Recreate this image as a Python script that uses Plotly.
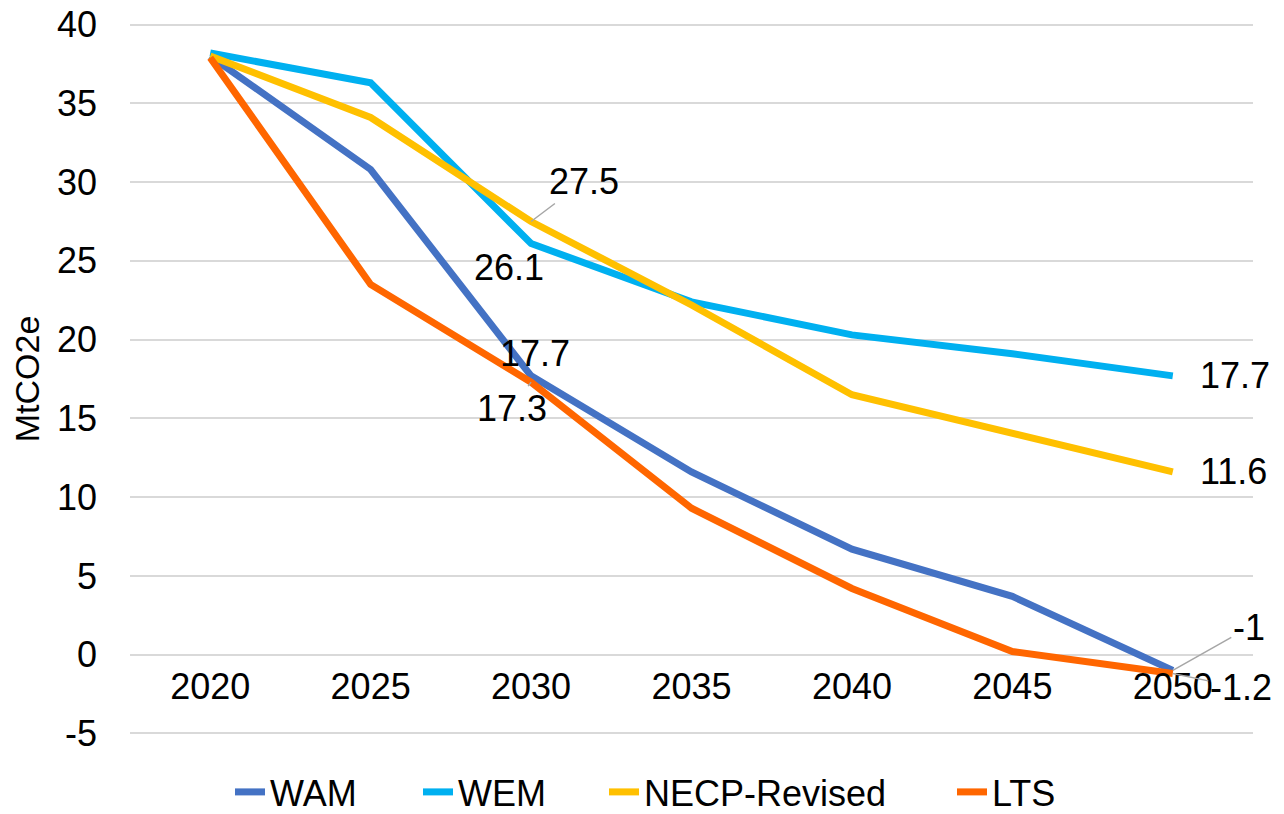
import plotly.graph_objects as go

years = ["2020", "2025", "2030", "2035", "2040", "2045", "2050"]
wam = [38.0, 30.8, 17.7, 11.6, 6.7, 3.7, -1.0]
wem = [38.2, 36.3, 26.1, 22.4, 20.3, 19.1, 17.7]
necp = [38.0, 34.1, 27.5, 22.2, 16.5, 14.1, 11.6]
lts = [37.9, 23.5, 17.3, 9.3, 4.2, 0.2, -1.2]
y_ticks = [-5, 0, 5, 10, 15, 20, 25, 30, 35, 40]
y_tick_labels = ["-5", "0", "5", "10", "15", "20", "25", "30", "35", "40"]

series = [
    ("WAM", wam, "#4472C4"),
    ("WEM", wem, "#00B0F0"),
    ("NECP-Revised", necp, "#FFC000"),
    ("LTS", lts, "#FF6600"),
]
# legend entry text start (page px)
legend_text_x = [272, 460, 646, 994]

W, H = 1276, 806  # page body has an 8px margin
Y0, Y1 = -5.1, 40.1
FONT = "Liberation Sans, Arial, sans-serif"
fig = go.Figure()
for i, (name, vals, col) in enumerate(series):
    lg = "legend" if i == 0 else f"legend{i + 1}"
    fig.add_trace(go.Scatter(x=years, y=vals, name=name, mode="lines",
                             line=dict(color=col, width=7), legend=lg))

lab_font = dict(family=FONT, size=36, color="#000000")


def fmt(v):
    return f"{v:g}".replace("\u2212", "-")


# labels without leader lines (x as category index)
plain = [
    (2, wem[2], -22, -24, "center"),
    (2, wam[2], 4, 22, "center"),
    (6, wem[6], 25, 0, "left"),
    (6, necp[6], 25, 0, "left"),
]
for x, y, xs, ys, anc in plain:
    fig.add_annotation(x=x, y=y, text=fmt(y), showarrow=False, xshift=xs, yshift=ys,
                       xanchor=anc, yanchor="middle", font=lab_font)
# labels with leader lines
leader = [
    (2, necp[2], 53, -40),
    (2, lts[2], -19, 26),
    (6, wam[6], 76, -43),
    (6, lts[6], 68, 14),
]
for x, y, ax, ay in leader:
    fig.add_annotation(x=x, y=y, text=fmt(y), showarrow=True, ax=ax, ay=ay,
                       arrowhead=0, arrowwidth=1.5, arrowcolor="#A6A6A6", standoff=0,
                       font=lab_font)

legends = {}
for i, px in enumerate(legend_text_x):
    key = "legend" if i == 0 else f"legend{i + 1}"
    legends[key] = dict(orientation="h", xref="container", yref="container",
                        x=(px - 50) / W, y=1 - 784 / H, xanchor="left", yanchor="middle",
                        font=dict(family=FONT, size=36, color="#000000"),
                        bgcolor="rgba(0,0,0,0)")

fig.update_layout(
    width=W, height=H,
    margin=dict(l=122, r=31, t=15, b=79, autoexpand=False),
    paper_bgcolor="white", plot_bgcolor="white",
    font=dict(family=FONT, size=36, color="#000000"),
    showlegend=True,
    **legends,
    xaxis=dict(type="category", range=[-0.5, 6.5], showgrid=False, zeroline=False,
               showline=False, anchor="free", position=(0 - Y0) / (Y1 - Y0), ticks="",
               automargin=False, ticklabelstandoff=7, ticklabeloverflow="allow",
               tickfont=dict(family=FONT, size=36, color="#000000")),
    yaxis=dict(range=[Y0, Y1], tickvals=y_ticks, ticktext=y_tick_labels,
               showgrid=True, gridcolor="#D9D9D9",
               gridwidth=1.5, zeroline=False, showline=False, ticks="",
               automargin=False, ticklabelstandoff=32, ticklabeloverflow="allow",
               tickfont=dict(family=FONT, size=36, color="#000000"),
               title=dict(text="MtCO2e", font=dict(family=FONT, size=34, color="#000000"),
                          standoff=12)),
)

fig.write_html("out.html")
